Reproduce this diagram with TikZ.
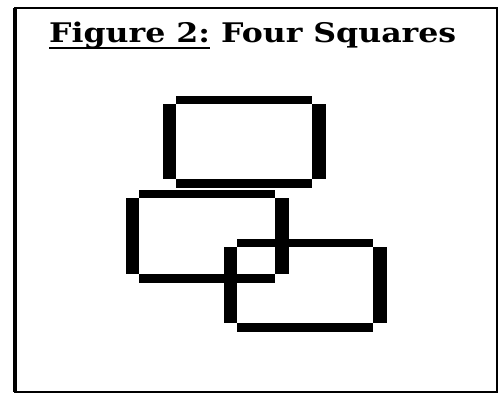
\documentclass[tikz,border=0pt]{standalone}
\usepackage{fontspec}
\newfontfamily\titlefont{DejaVu Serif}[BoldFont={DejaVu Serif Bold}]
\tikzset{
  bar/.style={fill=black, draw=none},
  frameline/.style={draw=black, line width=2pt},
}
\newcommand\notchrect[4]{% inner x1, inner y1, inner x2, inner y2
  \fill[bar] (#1,#2-8.5) rectangle (#3,#2);
  \fill[bar] (#1,#4) rectangle (#3,#4+8.5);
  \fill[bar] (#1-13.5,#2) rectangle (#1,#4);
  \fill[bar] (#3,#2) rectangle (#3+13.5,#4);
}
\begin{document}
\begin{tikzpicture}[x=1pt,y=-1pt]
\useasboundingbox (0,0) rectangle (498,396);
\fill[white] (0,0) rectangle (498,396);
% frame
\draw[frameline] (15,8) rectangle (497,392);
\draw[black, line width=4pt] (15,8) -- (15,392);
% title
\node[anchor=base west, inner sep=0pt, font=\titlefont\bfseries\fontsize{27}{32}\selectfont] (title) at (49,43)
  {\scalebox{1.17}[1]{{\setbox0\hbox{Figure 2:}\rlap{\rule[-6.5pt]{\wd0}{2.5pt}}\box0} Four Squares}};
% rectangles
\notchrect{176}{104}{312}{179}
\notchrect{139}{198}{275}{274}
\notchrect{237}{247}{373}{323}
\end{tikzpicture}
\end{document}
